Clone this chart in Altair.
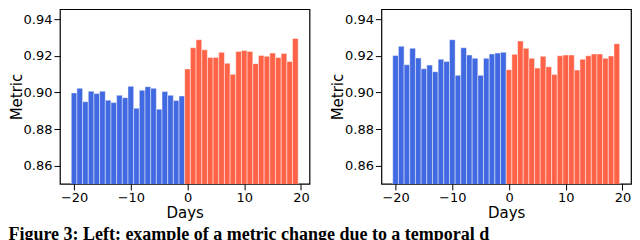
import altair as alt
import numpy as np
import pandas as pd

days = list(range(-20, 20))

left_values = [
    0.8998, 0.9023, 0.8950, 0.9007, 0.8994, 0.9007, 0.8958, 0.8945, 0.8985, 0.8972,
    0.9034, 0.8914, 0.9012, 0.9032, 0.9023, 0.8909, 0.9005, 0.8985, 0.8956, 0.8981,
    0.9129, 0.9245, 0.9289, 0.9234, 0.9192, 0.9192, 0.9220, 0.9160, 0.9100, 0.9225,
    0.9230, 0.9225, 0.9158, 0.9203, 0.9198, 0.9216, 0.9192, 0.9214, 0.9170, 0.9296,
]

right_values = [
    0.9203, 0.9253, 0.9152, 0.9242, 0.9189, 0.9130, 0.9150, 0.9114, 0.9182, 0.9170,
    0.9289, 0.9094, 0.9245, 0.9205, 0.9187, 0.9094, 0.9187, 0.9211, 0.9216, 0.9220,
    0.9125, 0.9209, 0.9282, 0.9242, 0.9187, 0.9134, 0.9198, 0.9141, 0.9098, 0.9201,
    0.9205, 0.9205, 0.9123, 0.9182, 0.9201, 0.9211, 0.9211, 0.9187, 0.9200, 0.9267,
]

x_ticks = [-20, -10, 0, 10, 20]
y_ticks = [0.86, 0.88, 0.90, 0.92, 0.94]
periods = ["before", "after"]
colors = ["#4169E1", "#FF6347"]
caption = "Figure 3: Left: example of a metric change due to a temporal d"


def panel(values):
    df = pd.DataFrame({"day": days, "metric": values})
    df["period"] = np.where(df["day"] < 0, "before", "after")
    return (
        alt.Chart(df)
        .transform_calculate(x0="datum.day - 0.5", x1="datum.day + 0.5", base="0")
        .mark_bar(clip=True, stroke="white", strokeOpacity=0.45, strokeWidth=1)
        .encode(
            x=alt.X(
                "x0:Q",
                scale=alt.Scale(domain=[-22.5, 21.5], nice=False, zero=False),
                axis=alt.Axis(
                    values=x_ticks, format="d", title="Days", titlePadding=1,
                    titleFontSize=15, labelFontSize=13,
                ),
            ),
            x2="x1:Q",
            y=alt.Y(
                "metric:Q",
                scale=alt.Scale(domain=[0.85, 0.9456], nice=False, zero=False),
                axis=alt.Axis(
                    values=y_ticks, format=".2f", title="Metric", titlePadding=-1,
                    titleFontSize=15, labelFontSize=13,
                ),
            ),
            y2="base:Q",
            color=alt.Color(
                "period:N",
                scale=alt.Scale(domain=periods, range=colors),
                legend=None,
            ),
        )
        .properties(width=250, height=175)
    )


chart = (
    alt.hconcat(panel(left_values), panel(right_values), spacing=19)
    .properties(
        padding=0,
        title=alt.TitleParams(
            caption,
            orient="bottom",
            anchor="start",
            font="Liberation Serif",
            fontSize=18,
            fontWeight="bold",
            color="black",
            offset=5,
        ),
    )
    .configure_view(stroke="black", strokeWidth=1.2)
    .configure_axis(
        domain=False,
        grid=False,
        labelFont="DejaVu Sans",
        labelFontSize=13,
        labelColor="black",
        labelPadding=2,
        titleFont="DejaVu Sans",
        titleFontSize=15,
        titleFontWeight="normal",
        titleColor="black",
        tickColor="black",
        tickSize=6,
        tickWidth=1,
    )
)

chart.save("out.html", embed_options={"renderer": "svg", "actions": False})
